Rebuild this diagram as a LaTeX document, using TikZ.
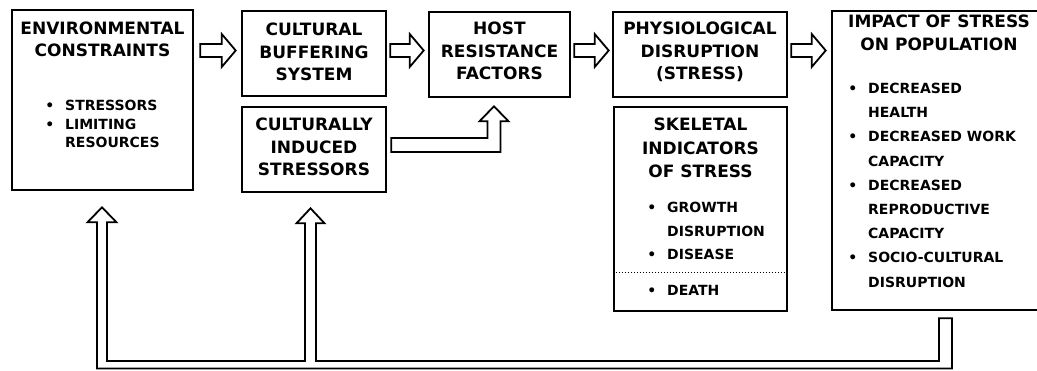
\documentclass[tikz,border=0pt]{standalone}
\usepackage{fontspec}
\setmainfont{DejaVu Sans}
\usetikzlibrary{calc}
\newcommand\mybul{\llap{•\hspace{10.8pt}}}
\newcommand\harrow[2]{\draw[hollow] ($(#1)+(0,6.5)$) -- ($(#2)+(-14,6.5)$) -- ($(#2)+(-14,16.5)$) -- (#2) -- ($(#2)+(-14,-16.5)$) -- ($(#2)+(-14,-6.5)$) -- ($(#1)+(0,-6.5)$) -- cycle;}
\begin{document}
\begin{tikzpicture}[x=1pt,y=-1pt,
  box/.style={draw,line width=2.6pt,inner sep=0pt},
  hollow/.style={draw,line width=1.8pt,line join=miter},
  title/.style={inner sep=0pt,anchor=north,align=center,font=\bfseries\fontsize{17}{#1}\selectfont},
  title/.default=22.5,
  list/.style={inner sep=0pt,anchor=north west,align=left,font=\bfseries\fontsize{14}{#1}\selectfont},
  list/.default=18.5]
\useasboundingbox (0,0) rectangle (1037,371);
% boxes
\node[box,minimum width=181pt,minimum height=180pt] (env) at (102.5,100) {};
\node[box,minimum width=144pt,minimum height=85pt] (cult) at (314,53.5) {};
\node[box,minimum width=144pt,minimum height=85pt] (ind) at (314,149.5) {};
\node[box,minimum width=141pt,minimum height=85pt] (host) at (499.5,54.5) {};
\node[box,minimum width=174pt,minimum height=85pt] (phys) at (700,54.5) {};
\node[box,minimum width=173pt,minimum height=204pt] (skel) at (700.5,209) {};
\node[box,minimum width=214pt,minimum height=299pt] (impact) at (939,160.5) {};
% texts
\node[title=21.5] (envT) at (102.5,22) {ENVIRONMENTAL\\CONSTRAINTS};
\node[list=18.5] (envL) at (65,100) {\mybul STRESSORS\\\mybul LIMITING\\RESOURCES};
\node[title] (cultT) at (314,23) {CULTURAL\\BUFFERING\\SYSTEM};
\node[title] (indT) at (314,118) {CULTURALLY\\INDUCED\\STRESSORS};
\node[title] (hostT) at (499.5,22) {HOST\\RESISTANCE\\FACTORS};
\node[title] (physT) at (700,22) {PHYSIOLOGICAL\\DISRUPTION\\(STRESS)};
\node[title=23.5] (skelT) at (700.5,118) {SKELETAL\\INDICATORS\\OF STRESS};
\node[list=23.5] (skelL) at (667,202) {\mybul GROWTH\\DISRUPTION\\\mybul DISEASE};
\node[list] (skelD) at (667,285) {\mybul DEATH};
\node[title=23] (impT) at (939,15) {IMPACT OF STRESS\\ON POPULATION};
\node[list=24.2] (impL) at (868,83) {\mybul DECREASED\\HEALTH\\\mybul DECREASED WORK\\CAPACITY\\\mybul DECREASED\\REPRODUCTIVE\\CAPACITY\\\mybul SOCIO-CULTURAL\\DISRUPTION};
% dotted separator
\draw[dotted,line width=1pt] (skel.west |- 0,273) -- (skel.east |- 0,273);
% straight hollow arrows
\coordinate (a1t) at ($(env.east |- 0,50.5)+(6,0)$);
\coordinate (a1h) at ($(cult.west |- 0,50.5)+(-5,0)$);
\coordinate (a2t) at ($(cult.east |- 0,50.5)+(3,0)$);
\coordinate (a2h) at ($(host.west |- 0,50.5)+(-4,0)$);
\coordinate (a3t) at ($(host.east |- 0,50.5)+(3,0)$);
\coordinate (a3h) at ($(phys.west |- 0,50.5)+(-3,0)$);
\coordinate (a4t) at ($(phys.east |- 0,50.5)+(3,0)$);
\coordinate (a4h) at ($(impact.west |- 0,50.5)+(-5,0)$);
\harrow{a1t}{a1h}
\harrow{a2t}{a2h}
\harrow{a3t}{a3h}
\harrow{a4t}{a4h}
% bent arrow induced -> host
\coordinate (S) at ($(ind.east |- 0,145)+(4,0)$);
\coordinate (T) at ($(host.south)+(-5.5,8)$);
\draw[hollow] ($(S)+(0,-7)$) -- ($(T |- S)+(-6.5,-7)$) -- ($(T)+(-6.5,15)$) -- ($(T)+(-14.5,15)$) -- (T)
  -- ($(T)+(14.5,15)$) -- ($(T)+(6.5,15)$) -- ($(T |- S)+(6.5,7)$) -- ($(S)+(0,7)$) -- cycle;
% feedback arrow
\coordinate (F) at ($(impact.south)+(6.5,7)$);
\coordinate (L) at ($(env.south)+(-0.5,16)$);
\coordinate (M) at ($(ind.south)+(-3.5,15)$);
\coordinate (Ybot) at (0,368.5);
\coordinate (Yin) at (0,361);
\draw[hollow] ($(F)+(6.5,0)$) -- ($(F |- Ybot)+(6.5,0)$) -- ($(L |- Ybot)+(-5,0)$) -- ($(L)+(-5,15)$)
  -- ($(L)+(-14.5,15)$) -- (L) -- ($(L)+(14.5,15)$) -- ($(L)+(5,15)$) -- ($(L |- Yin)+(5,0)$)
  -- ($(M |- Yin)+(-5.5,0)$) -- ($(M)+(-5.5,15)$) -- ($(M)+(-14,15)$) -- (M) -- ($(M)+(14,15)$)
  -- ($(M)+(5.5,15)$) -- ($(M |- Yin)+(5.5,0)$) -- ($(F |- Yin)+(-6.5,0)$) -- ($(F)+(-6.5,0)$) -- cycle;
\end{tikzpicture}
\end{document}
